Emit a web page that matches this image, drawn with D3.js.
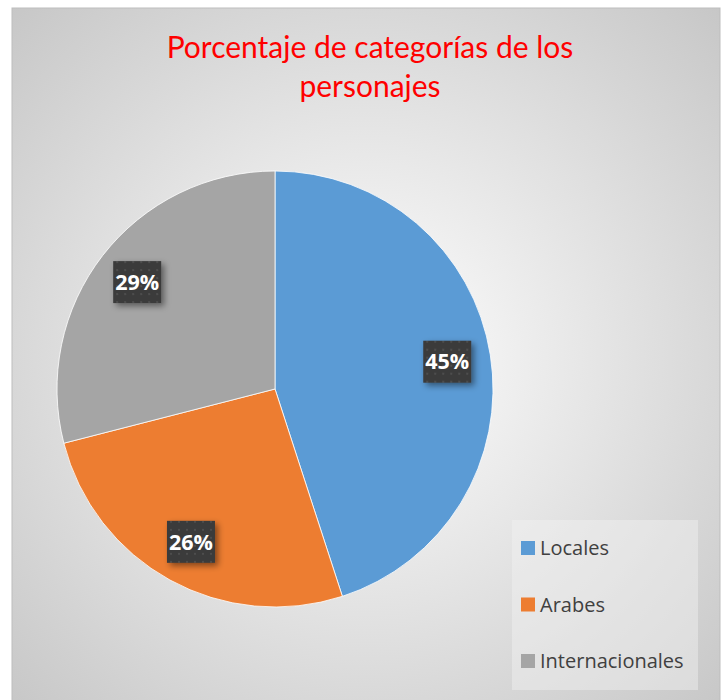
<!DOCTYPE html>
<html>
<head>
<meta charset="utf-8">
<script src="https://cdn.jsdelivr.net/npm/d3@7"></script>
<style>
  body { margin: 0; background: #fff; }
  svg { display: block; }
</style>
</head>
<body>
<div id="chart"></div>
<script>
var categories = [ 'Locales', 'Arabes', 'Internacionales' ];
var values = [ 45, 26, 29 ];
var colors = [ '#5B9BD5', '#ED7D31', '#A5A5A5' ];
var titleLines = [ 'Porcentaje de categorías de los', 'personajes' ];

var width = 725, height = 700;
var frame = { x: 12, y: 8, w: 708, h: 700 };
var cx = 275, cy = 389, radius = 218;

var svg = d3.select( '#chart' ).append( 'svg' )
  .attr( 'width', width )
  .attr( 'height', height );

var defs = svg.append( 'defs' );

var bg = defs.append( 'radialGradient' )
  .attr( 'id', 'bg' )
  .attr( 'cx', '50%' ).attr( 'cy', '50%' ).attr( 'r', '72%' );
bg.append( 'stop' ).attr( 'offset', '0%' ).attr( 'stop-color', '#ffffff' );
bg.append( 'stop' ).attr( 'offset', '100%' ).attr( 'stop-color', '#c6c6c6' );

// dotted fill for the label boxes
var pat = defs.append( 'pattern' )
  .attr( 'id', 'dots' )
  .attr( 'width', 8 ).attr( 'height', 8 )
  .attr( 'patternUnits', 'userSpaceOnUse' );
pat.append( 'rect' ).attr( 'width', 8 ).attr( 'height', 8 ).attr( 'fill', '#3b3b3b' );
pat.append( 'rect' ).attr( 'x', 3 ).attr( 'y', 3 ).attr( 'width', 2 ).attr( 'height', 2 ).attr( 'fill', '#4d4d4d' );

var shadow = defs.append( 'filter' )
  .attr( 'id', 'shadow' )
  .attr( 'x', '-30%' ).attr( 'y', '-30%' ).attr( 'width', '170%' ).attr( 'height', '170%' );
shadow.append( 'feDropShadow' )
  .attr( 'dx', 3 ).attr( 'dy', 3 )
  .attr( 'stdDeviation', 3 )
  .attr( 'flood-color', '#000' )
  .attr( 'flood-opacity', 0.45 );

svg.append( 'rect' )
  .attr( 'x', frame.x ).attr( 'y', frame.y )
  .attr( 'width', frame.w ).attr( 'height', frame.h )
  .attr( 'fill', 'url(#bg)' )
  .attr( 'stroke', '#bdbdbd' )
  .attr( 'stroke-width', 1 );

svg.append( 'text' )
  .attr( 'x', 370 )
  .attr( 'y', 58 )
  .attr( 'text-anchor', 'middle' )
  .attr( 'fill', '#ff0000' )
  .style( 'font-family', 'Lato, "Open Sans", sans-serif' )
  .style( 'font-size', '30px' )
  .selectAll( 'tspan' )
  .data( titleLines )
  .enter()
  .append( 'tspan' )
    .attr( 'x', 370 )
    .attr( 'dy', ( d, i ) => i === 0 ? 0 : 39 )
    .text( d => d );

var pie = d3.pie().sort( null ).value( d => d );
var arc = d3.arc().innerRadius( 0 ).outerRadius( radius );
var labelArc = d3.arc().innerRadius( radius * 0.8 ).outerRadius( radius * 0.8 );

var g = svg.append( 'g' )
  .attr( 'transform', 'translate(' + cx + ',' + cy + ')' );

var arcs = pie( values );

g.selectAll( '.slice' )
  .data( arcs )
  .enter()
  .append( 'path' )
    .attr( 'class', 'slice' )
    .attr( 'd', arc )
    .attr( 'fill', ( d, i ) => colors[ i ] )
    .attr( 'stroke', '#ffffff' )
    .attr( 'stroke-width', 0.8 );

var labels = g.selectAll( '.label' )
  .data( arcs )
  .enter()
  .append( 'g' )
    .attr( 'class', 'label' )
    .attr( 'transform', d => 'translate(' + labelArc.centroid( d ) + ')' );

labels.append( 'rect' )
  .attr( 'x', -24 ).attr( 'y', -21 )
  .attr( 'width', 48 ).attr( 'height', 42 )
  .attr( 'fill', 'url(#dots)' )
  .attr( 'filter', 'url(#shadow)' );

labels.append( 'text' )
  .attr( 'text-anchor', 'middle' )
  .attr( 'dy', '0.36em' )
  .attr( 'fill', '#ffffff' )
  .style( 'font-family', '"Open Sans", Lato, sans-serif' )
  .style( 'font-weight', 'bold' )
  .style( 'font-size', '21.5px' )
  .text( d => d.data + '%' );

// legend
var legend = svg.append( 'g' ).attr( 'transform', 'translate(512,520)' );

legend.append( 'rect' )
  .attr( 'width', 186 ).attr( 'height', 170 )
  .attr( 'fill', '#f2f2f2' )
  .attr( 'fill-opacity', 0.45 );

var items = legend.selectAll( '.item' )
  .data( categories )
  .enter()
  .append( 'g' )
    .attr( 'class', 'item' )
    .attr( 'transform', ( d, i ) => 'translate(9,' + ( 28 + i * 56.5 ) + ')' );

items.append( 'rect' )
  .attr( 'x', 0 ).attr( 'y', -7 )
  .attr( 'width', 14 ).attr( 'height', 14 )
  .attr( 'fill', ( d, i ) => colors[ i ] );

items.append( 'text' )
  .attr( 'x', 19 )
  .attr( 'dy', '0.36em' )
  .attr( 'fill', '#404040' )
  .style( 'font-family', '"Open Sans", Lato, sans-serif' )
  .style( 'font-size', '20px' )
  .text( d => d );
</script>
</body>
</html>
